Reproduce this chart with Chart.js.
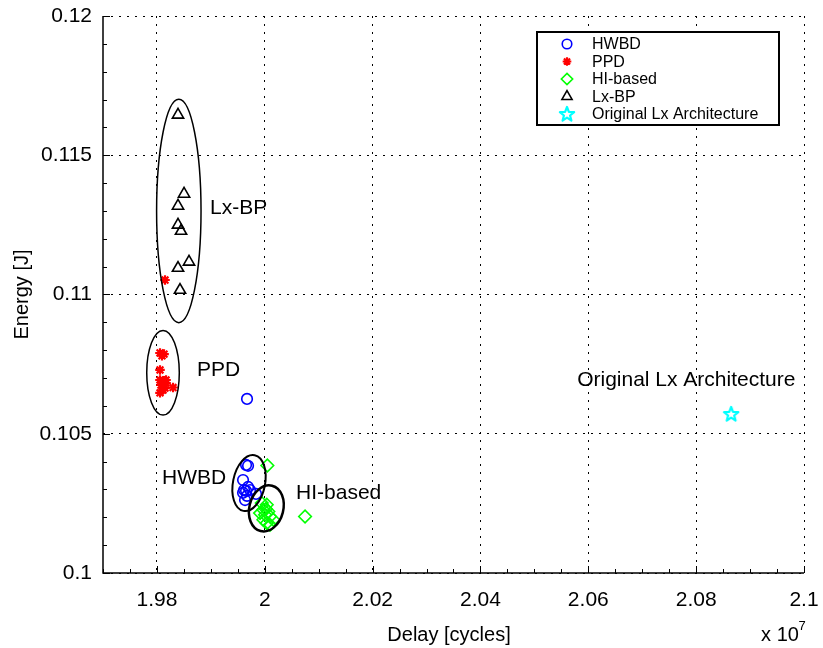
<!DOCTYPE html>
<html>
<head>
<meta charset="utf-8">
<script src="https://cdn.jsdelivr.net/npm/chart.js@4.4.1/dist/chart.umd.min.js"></script>
<style>
  html, body { margin: 0; padding: 0; background: #fff; }
</style>
</head>
<body>
<canvas id="energyChart" width="823" height="648"></canvas>
<script>
// delay values are in units of 1e7 cycles
const hwbdX = [1.99653, 1.99690, 1.99597, 1.99690, 1.99616, 1.99727, 1.99597, 1.99838, 1.99634, 1.99671, 1.99653, 1.99671];
const hwbdY = [0.10388, 0.10385, 0.10334, 0.10309, 0.10298, 0.10298, 0.10288, 0.10284, 0.10262, 0.10277, 0.10295, 0.10625];

const ppdX = [1.98057, 1.98132, 1.98094, 1.98057, 1.98057, 1.98132, 1.98169, 1.98075, 1.98169, 1.98299, 1.98113, 1.98057, 1.98150, 1.98150];
const ppdY = [0.10790, 0.10786, 0.10780, 0.10729, 0.10693, 0.10690, 0.10693, 0.10675, 0.10682, 0.10666, 0.10657, 0.10647, 0.10664, 0.11052];

const hiX = [2.00048, 1.99944, 2.00037, 1.99974, 2.00066, 1.99912, 2.00005, 2.00098, 1.99974, 2.00159, 2.00037, 2.00098, 2.00747, 2.00020];
const hiY = [0.10386, 0.10251, 0.10245, 0.10227, 0.10221, 0.10215, 0.10209, 0.10203, 0.10191, 0.10191, 0.10179, 0.10173, 0.10203, 0.10230];

const lxbpX = [1.98391, 1.98503, 1.98391, 1.98391, 1.98447, 1.98595, 1.98391, 1.98428];
const lxbpY = [0.11645, 0.11361, 0.11318, 0.11250, 0.11228, 0.11117, 0.11095, 0.11016];

const origX = [2.08649];
const origY = [0.10571];

const xTicks = [1.98, 2, 2.02, 2.04, 2.06, 2.08, 2.1];
const yTicks = [0.1, 0.105, 0.11, 0.115, 0.12];

// cluster outlines and labels (data units)
const ellipses = [
  { cx: 1.98406, cy: 0.11300, rx: 0.00412, ry: 0.00401, rot: 0, lw: 1.5 },
  { cx: 1.98113, cy: 0.10719, rx: 0.00302, ry: 0.00152, rot: 0, lw: 1.5 },
  { cx: 1.99708, cy: 0.10323, rx: 0.00297, ry: 0.00102, rot: 0.2, lw: 2 },
  { cx: 2.00029, cy: 0.10232, rx: 0.00315, ry: 0.00084, rot: 0.25, lw: 2.5 }
];
const notes = [
  { text: "Lx-BP", x: 1.98985, y: 0.11311 },
  { text: "PPD", x: 1.98744, y: 0.10729 },
  { text: "HWBD", x: 1.98094, y: 0.10341 },
  { text: "HI-based", x: 2.00580, y: 0.10288 },
  { text: "Original Lx Architecture", x: 2.05793, y: 0.10693 }
];

const FONT = '"Liberation Sans", Arial, sans-serif';

function toPoints(xs, ys) {
  return xs.map((x, i) => ({ x: x, y: ys[i] }));
}

// pentagram marker
function makeStar(color) {
  const c = document.createElement("canvas");
  c.width = 18; c.height = 18;
  const g = c.getContext("2d");
  g.strokeStyle = color;
  g.lineWidth = 2.2;
  g.lineJoin = "round";
  g.beginPath();
  for (let i = 0; i < 10; i++) {
    const r = i % 2 === 0 ? 7.5 : 3.2;
    const a = -Math.PI / 2 + i * Math.PI / 5;
    const px = 9 + r * Math.cos(a), py = 9.5 + r * Math.sin(a);
    if (i === 0) g.moveTo(px, py); else g.lineTo(px, py);
  }
  g.closePath();
  g.stroke();
  return c;
}
const cyanStar = makeStar("#00ffff");

const datasets = [
  { label: "HWBD", data: toPoints(hwbdX, hwbdY), pointStyle: "circle", pointRadius: 5.3, borderColor: "#0000ff", backgroundColor: "rgba(0,0,0,0)", borderWidth: 1.6 },
  { label: "PPD", data: toPoints(ppdX, ppdY), pointStyle: "star", pointRadius: 4.8, borderColor: "#ff0000", backgroundColor: "#ff0000", borderWidth: 2.2 },
  { label: "HI-based", data: toPoints(hiX, hiY), pointStyle: "rectRot", pointRadius: 6.3, borderColor: "#00ff00", backgroundColor: "rgba(0,0,0,0)", borderWidth: 1.6 },
  { label: "Lx-BP", data: toPoints(lxbpX, lxbpY), pointStyle: "triangle", pointRadius: 6.5, borderColor: "#000000", backgroundColor: "rgba(0,0,0,0)", borderWidth: 1.6 },
  { label: "Original Lx Architecture", data: toPoints(origX, origY), pointStyle: cyanStar, pointRadius: 7, borderColor: "#00ffff", backgroundColor: "rgba(0,0,0,0)", borderWidth: 1.5 }
];

const decorPlugin = {
  id: "decor",
  afterDraw(chart) {
    const ctx = chart.ctx, a = chart.chartArea;
    const xs = chart.scales.x, ys = chart.scales.y;
    ctx.save();

    // axes and inward ticks
    ctx.strokeStyle = "#000";
    ctx.lineWidth = 1.5;
    ctx.beginPath();
    ctx.moveTo(a.left, a.top);
    ctx.lineTo(a.left, a.bottom);
    ctx.lineTo(a.right, a.bottom);
    ctx.stroke();
    ctx.lineWidth = 1;
    ctx.beginPath();
    for (let v = 1.97; v <= 2.1001; v += 0.005) {
      const px = Math.round(xs.getPixelForValue(v)) + 0.5;
      const major = xTicks.some(t => Math.abs(t - v) < 1e-6);
      ctx.moveTo(px, a.bottom);
      ctx.lineTo(px, a.bottom - (major ? 7 : 4));
    }
    for (let v = 0.1; v <= 0.12001; v += 0.001) {
      const py = Math.round(ys.getPixelForValue(v)) + 0.5;
      const major = yTicks.some(t => Math.abs(t - v) < 1e-7);
      ctx.moveTo(a.left, py);
      ctx.lineTo(a.left + (major ? 7 : 4), py);
    }
    ctx.stroke();

    // cluster ellipses
    ctx.strokeStyle = "#000";
    ellipses.forEach(e => {
      const cx = xs.getPixelForValue(e.cx), cy = ys.getPixelForValue(e.cy);
      const rx = Math.abs(xs.getPixelForValue(e.cx + e.rx) - cx);
      const ry = Math.abs(ys.getPixelForValue(e.cy + e.ry) - cy);
      ctx.lineWidth = e.lw;
      ctx.beginPath();
      ctx.ellipse(cx, cy, rx, ry, e.rot, 0, Math.PI * 2);
      ctx.stroke();
    });

    // annotations
    ctx.fillStyle = "#000";
    ctx.font = "21px " + FONT;
    ctx.textAlign = "left";
    ctx.textBaseline = "middle";
    notes.forEach(n => ctx.fillText(n.text, xs.getPixelForValue(n.x), ys.getPixelForValue(n.y)));

    // axis titles
    ctx.font = "20px " + FONT;
    ctx.textAlign = "center";
    ctx.fillText("Delay [cycles]", 449, 635);
    ctx.fillText("x 10", 780, 635);
    ctx.font = "13px " + FONT;
    ctx.fillText("7", 802, 626);
    ctx.font = "20px " + FONT;
    ctx.save();
    ctx.translate(22, (a.top + a.bottom) / 2);
    ctx.rotate(-Math.PI / 2);
    ctx.fillText("Energy [J]", 0, 0);
    ctx.restore();

    // legend
    const lx = 537, ly = 32, lw = 242, lh = 93;
    ctx.fillStyle = "#fff";
    ctx.fillRect(lx, ly, lw, lh);
    ctx.strokeStyle = "#000";
    ctx.lineWidth = 2;
    ctx.strokeRect(lx, ly, lw, lh);
    ctx.font = "16px " + FONT;
    ctx.textAlign = "left";
    chart.data.datasets.forEach((ds, i) => {
      const y = ly + 12 + i * 17.5;
      ctx.strokeStyle = ds.borderColor;
      ctx.fillStyle = ds.backgroundColor;
      ctx.lineWidth = ds.borderWidth;
      Chart.helpers.drawPoint(ctx, { pointStyle: ds.pointStyle, radius: ds.pointRadius * 0.9, rotation: 0, borderWidth: ds.borderWidth }, 567, y);
      ctx.fillStyle = "#000";
      ctx.fillText(ds.label, 592, y + 1);
    });

    ctx.restore();
  }
};

const config = {
  type: "scatter",
  data: { datasets: datasets },
  options: {
    responsive: false,
    animation: false,
    layout: { padding: { top: 16, right: 19, left: 0, bottom: 0 } },
    plugins: {
      legend: { display: false },
      tooltip: { enabled: false }
    },
    scales: {
      x: {
        type: "linear",
        min: 1.97,
        max: 2.1,
        afterBuildTicks: s => { s.ticks = xTicks.map(v => ({ value: v })); },
        afterFit: s => { s.height = 75; s.paddingLeft = 0; s.paddingRight = 0; },
        grid: { color: "#000", lineWidth: 1, drawTicks: false },
        border: { display: false, dash: [2, 6] },
        ticks: {
          padding: 15,
          color: "#000",
          font: { family: FONT, size: 21 },
          maxRotation: 0,
          callback: v => String(+v.toFixed(3))
        }
      },
      y: {
        type: "linear",
        min: 0.1,
        max: 0.12,
        afterBuildTicks: s => { s.ticks = yTicks.map(v => ({ value: v })); },
        afterFit: s => { s.width = 103; s.paddingTop = 0; s.paddingBottom = 0; },
        grid: { color: "#000", lineWidth: 1, drawTicks: false },
        border: { display: false, dash: [2, 6] },
        ticks: {
          padding: 11,
          color: "#000",
          font: { family: FONT, size: 21 },
          callback: v => String(+v.toFixed(4))
        }
      }
    }
  },
  plugins: [decorPlugin]
};

new Chart(document.getElementById("energyChart"), config);
</script>
</body>
</html>
